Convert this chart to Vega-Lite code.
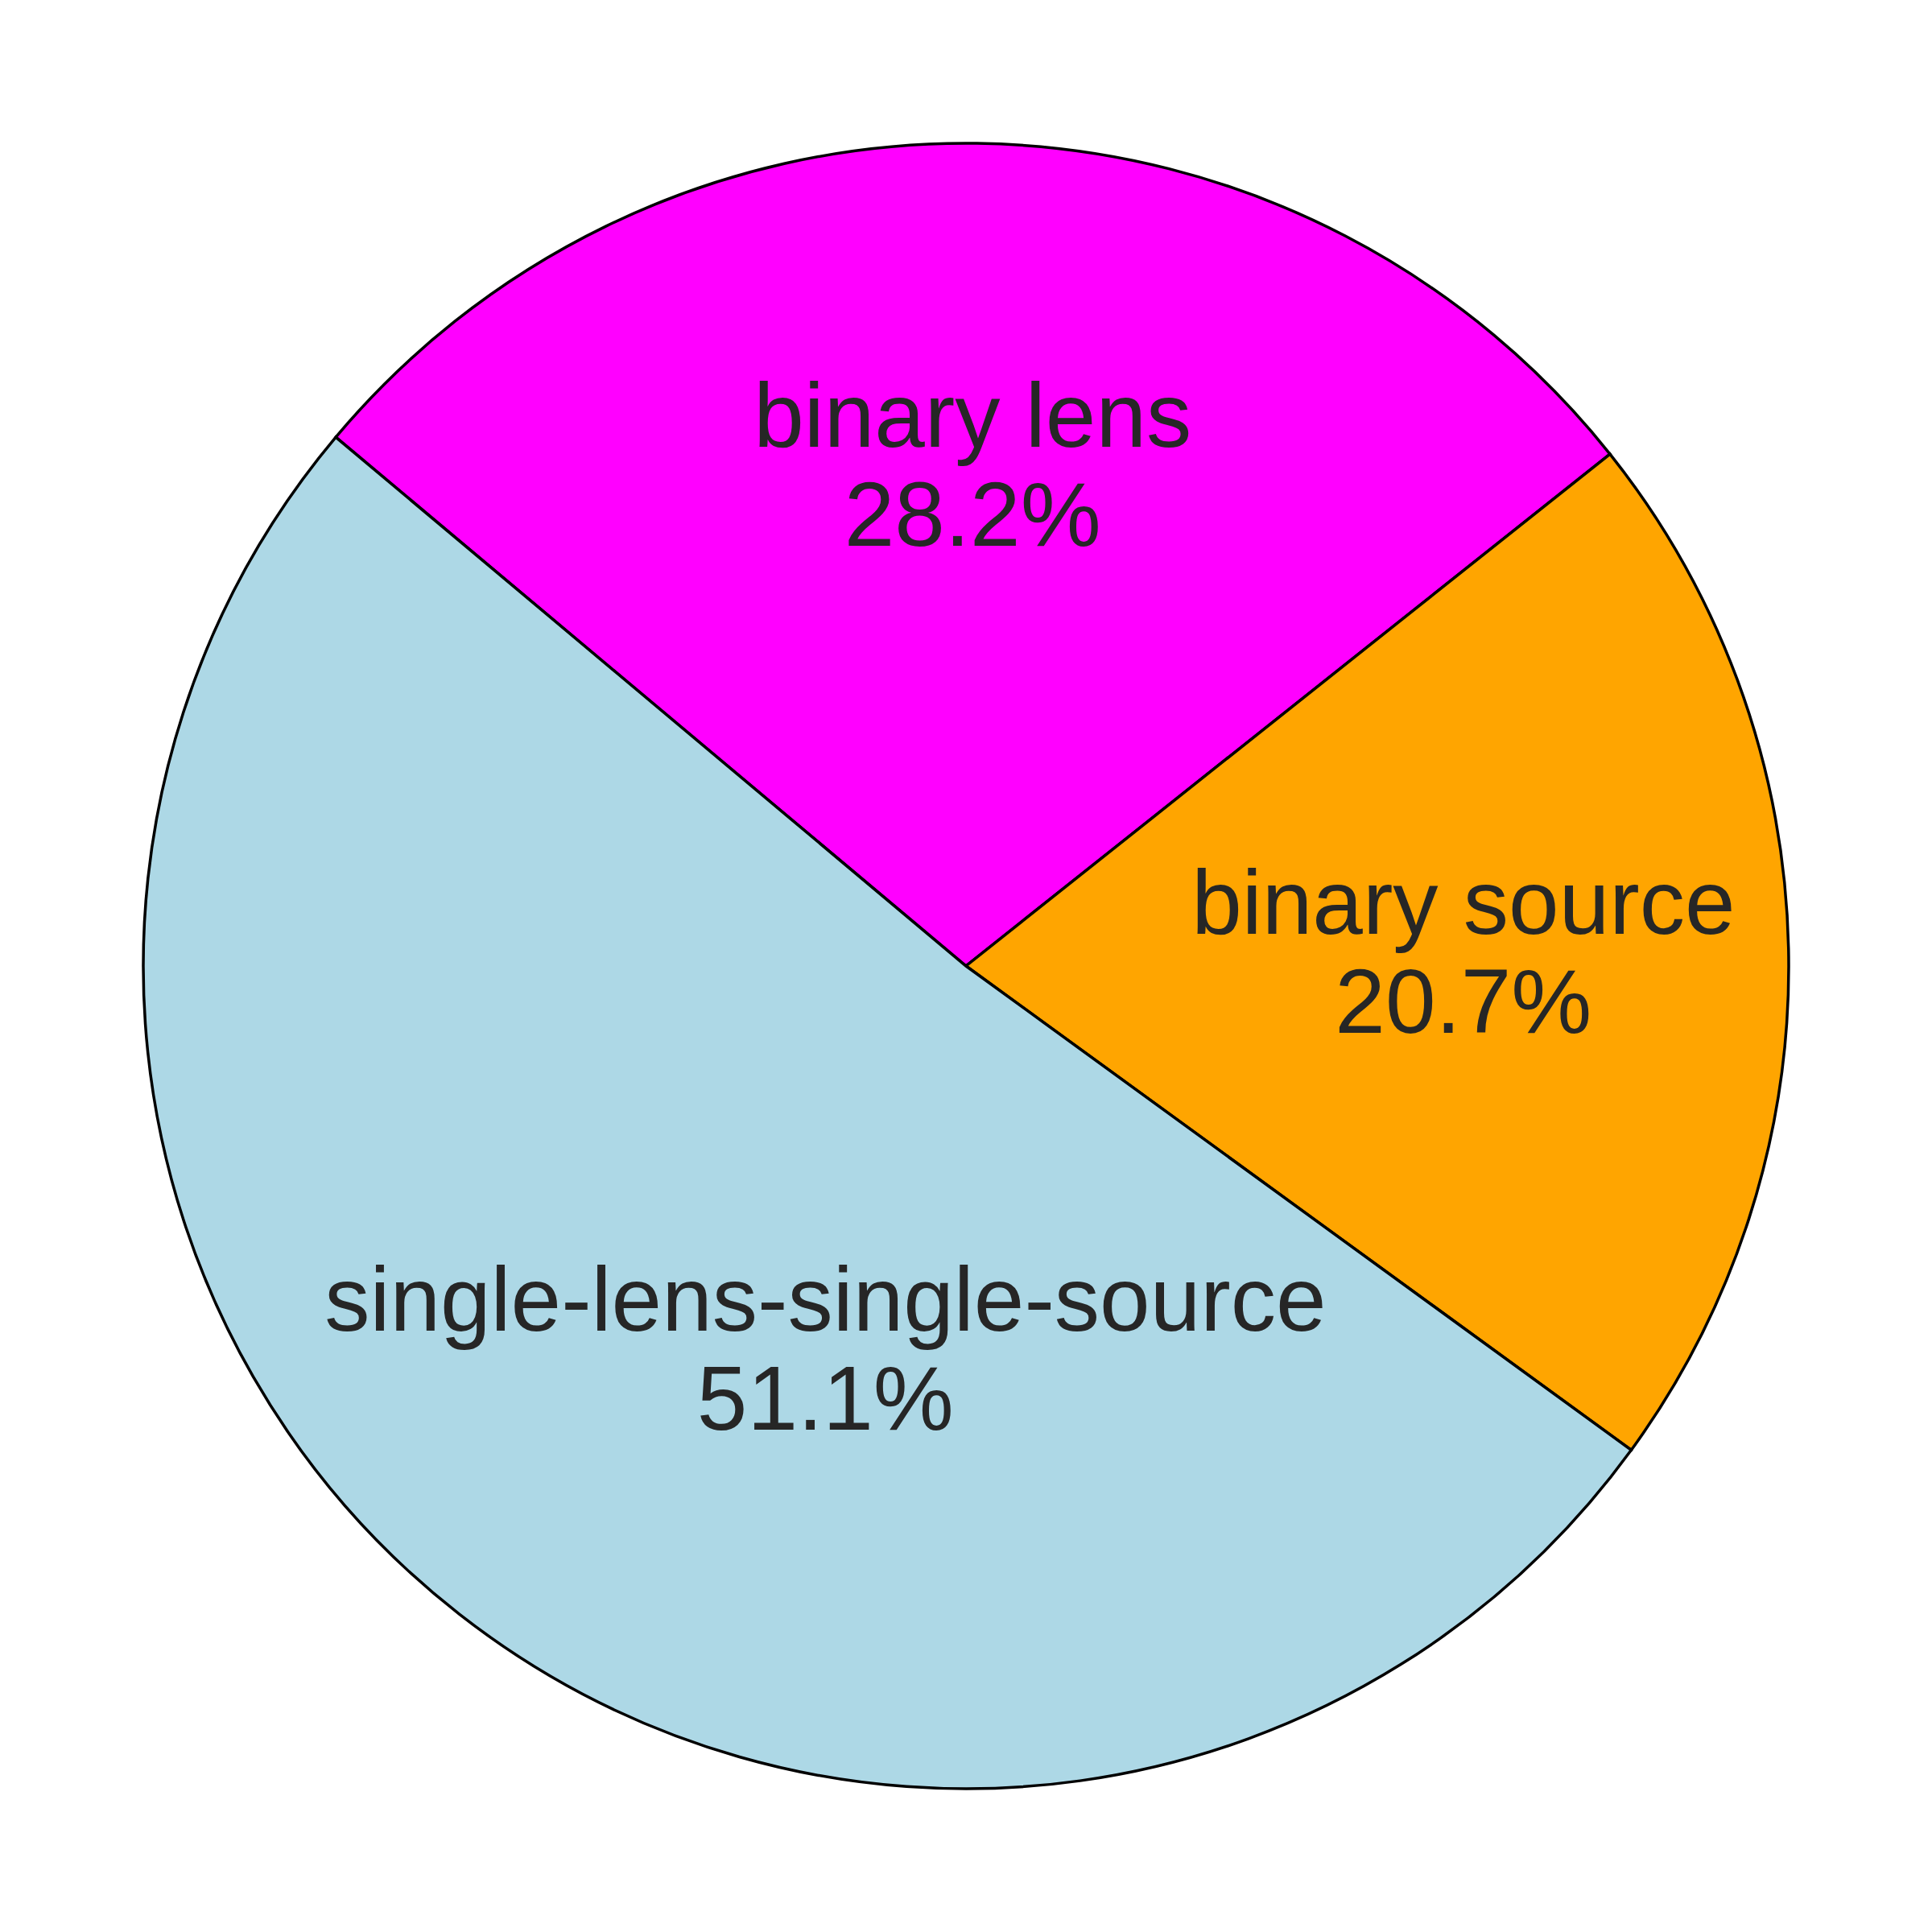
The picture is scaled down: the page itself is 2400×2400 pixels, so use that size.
{
  "$schema": "https://vega.github.io/schema/vega-lite/v6.json",
  "width": 2400,
  "height": 2400,
  "autosize": {"type": "fit", "contains": "padding"},
  "padding": 0,
  "background": "white",
  "config": {"view": {"stroke": null}},
  "data": {
    "values": [
      {"category": "binary lens", "share": 28.2},
      {"category": "binary source", "share": 20.7},
      {"category": "single-lens-single-source", "share": 51.1}
    ]
  },
  "transform": [
    {"calculate": "datum.category + '\\n' + format(datum.share, '.1f') + '%'", "as": "label"}
  ],
  "encoding": {
    "theta": {"field": "share", "type": "quantitative", "stack": true,
      "scale": {"range": [-0.8727, 5.4105]}},
    "order": {"field": "category", "type": "nominal", "sort": "ascending"}
  },
  "layer": [
    {
      "mark": {"type": "arc", "radius": 1022, "stroke": "black", "strokeWidth": 3.5},
      "encoding": {
        "color": {"field": "category", "type": "nominal", "legend": null,
          "scale": {"domain": ["binary lens", "binary source", "single-lens-single-source"],
                    "range": ["#FF00FF", "#FFA500", "#ADD8E6"]}}
      }
    },
    {
      "mark": {"type": "text", "radius": 618, "dy": -61, "font": "Liberation Sans", "fontSize": 112.5,
        "lineHeight": 123, "lineBreak": "\n", "align": "center", "baseline": "middle", "fill": "#262626"},
      "encoding": {"text": {"condition": {"test": "datum.category == 'single-lens-single-source'", "value": ""}, "field": "label"}}
    },
    {
      "mark": {"type": "text", "radius": 618, "dx": 206, "dy": -68, "font": "Liberation Sans", "fontSize": 112.5,
        "lineHeight": 123, "lineBreak": "\n", "align": "center", "baseline": "middle", "fill": "#262626"},
      "encoding": {"text": {"condition": {"test": "datum.category != 'single-lens-single-source'", "value": ""}, "field": "label"}}
    }
  ]
}
